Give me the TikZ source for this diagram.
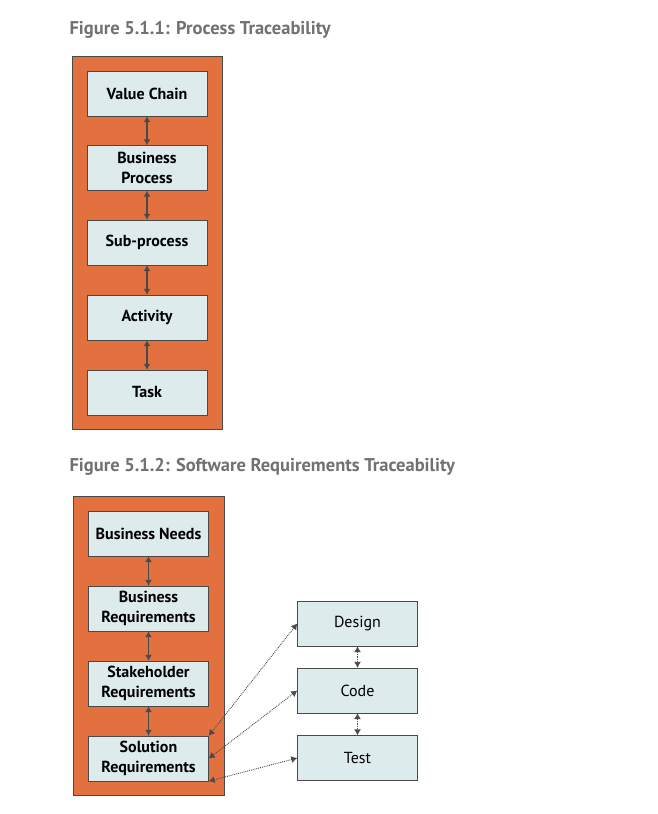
\documentclass[tikz,border=0pt]{standalone}
\usepackage{fontspec}
\setmainfont{PT Sans}
\usetikzlibrary{arrows.meta}
\definecolor{panel}{HTML}{E3713F}
\definecolor{boxfill}{HTML}{DDEBEC}
\definecolor{edge}{HTML}{4A4A4A}
\definecolor{titlegray}{HTML}{707173}
\tikzset{
  box/.style={draw=edge, fill=boxfill, minimum width=120pt, minimum height=45pt,
    align=center, font=\fontsize{16}{20}\selectfont\bfseries, inner sep=2pt},
  plainbox/.style={box, font=\fontsize{16}{20}\selectfont},
  title/.style={anchor=west, text=titlegray, font=\fontsize{18.5}{20}\selectfont\bfseries},
  link/.style={edge, line width=1.1pt, {Latex[length=6pt,width=7pt]}-{Latex[length=6pt,width=7pt]}},
  dotlink/.style={edge, densely dotted, line width=0.9pt, {Latex[length=6pt,width=7pt]}-{Latex[length=6pt,width=7pt]}}
}
\begin{document}
\begin{tikzpicture}[x=1pt,y=-1pt]
        \useasboundingbox (0,0) rectangle (657,814);
        % figure 5.1.1
        \node (t1) at (66,30) [title] {Figure 5.1.1: Process Traceability};
        \filldraw [fill=panel, draw=edge] (72,56) rectangle (222,429);
        \node (vc) at (147,93.5) [box] {Value Chain};
        \node (bp) at (147,168) [box] {Business\\Process};
        \node (sp) at (147,242.5) [box] {Sub-process};
        \node (ac) at (147,317.5) [box] {Activity};
        \node (tk) at (147,392.5) [box] {Task};
        \draw [link] (vc) -- (bp);
        \draw [link] (bp) -- (sp);
        \draw [link] (sp) -- (ac);
        \draw [link] (ac) -- (tk);
        % figure 5.1.2
        \node (t2) at (66,467) [title] {Figure 5.1.2: Software Requirements Traceability};
        \filldraw [fill=panel, draw=edge] (73,496) rectangle (224,795);
        \node (bn) at (148.5,533.5) [box] {Business Needs};
        \node (br) at (148.5,608.5) [box] {Business\\Requirements};
        \node (sr) at (148.5,683.5) [box] {Stakeholder\\Requirements};
        \node (sol) at (148.5,758.5) [box] {Solution\\Requirements};
        \draw [link] (bn) -- (br);
        \draw [link] (br) -- (sr);
        \draw [link] (sr) -- (sol);
        \node (des) at (357.5,623.5) [plainbox] {Design};
        \node (code) at (357.5,690.5) [plainbox] {Code};
        \node (test) at (357.5,758) [plainbox] {Test};
        \draw [dotlink] (des) -- (code);
        \draw [dotlink] (code) -- (test);
        \draw [dotlink] (sol.north east) -- (des.west);
        \draw [dotlink] (sol.east) -- (code.west);
        \draw [dotlink] (sol.south east) -- (test.west);
      \end{tikzpicture}
\end{document}
